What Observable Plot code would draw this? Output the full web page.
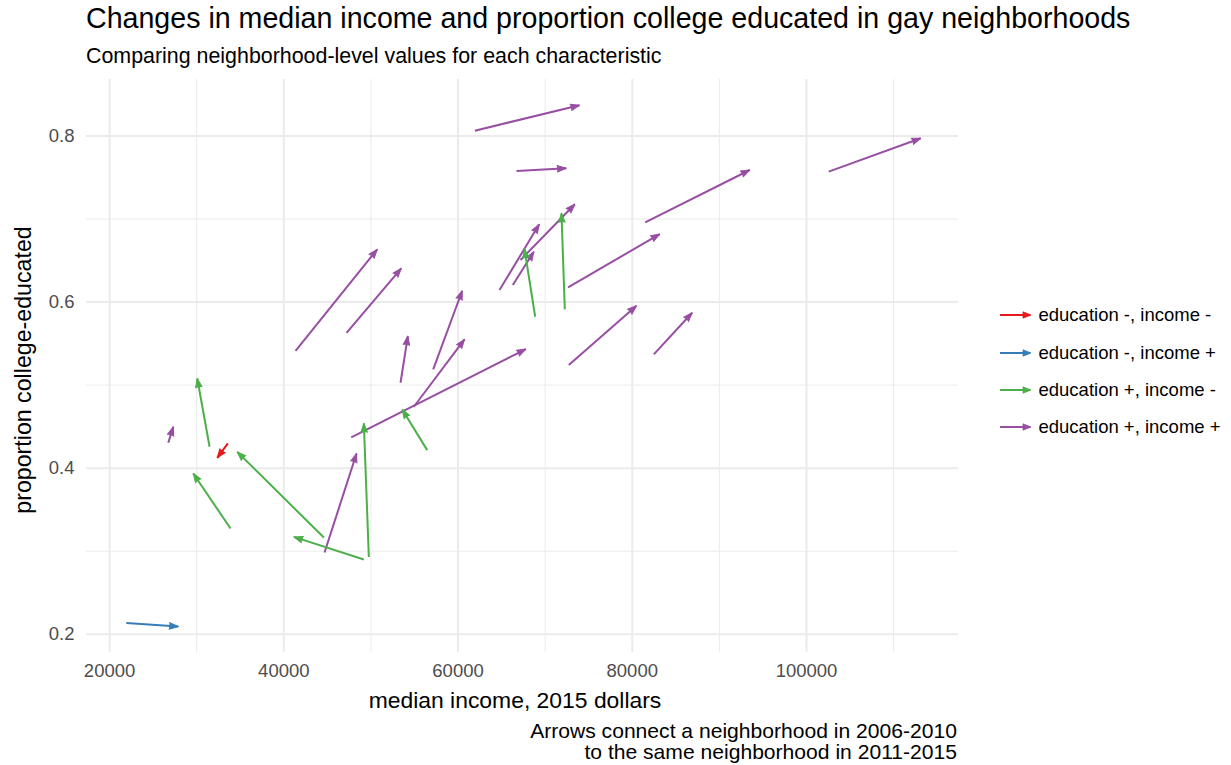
<!DOCTYPE html>
<html>
<head>
<meta charset="utf-8">
<script src="https://cdn.jsdelivr.net/npm/d3@7"></script>
<script src="https://cdn.jsdelivr.net/npm/@observablehq/plot@0.6"></script>
<style>
  body { margin: 0; background: #fff; }
  #wrap { position: relative; width: 1231px; height: 765px; font-family: "Liberation Sans", Arial, Helvetica, sans-serif; color: #000; }
  .t { position: absolute; line-height: 1; white-space: nowrap; }
</style>
</head>
<body>
<div id="wrap">
  <div id="chart" style="position:absolute;left:0;top:0"></div>
  <div class="t" style="left:86px;top:4px;font-size:28.6px;">Changes in median income and proportion college educated in gay neighborhoods</div>
  <div class="t" style="left:86px;top:45.5px;font-size:21.4px;">Comparing neighborhood-level values for each characteristic</div>
  <div class="t" style="left:79px;width:872px;text-align:center;top:689px;font-size:22.9px;">median income, 2015 dollars</div>
  <div class="t" style="left:24px;top:370px;font-size:23.2px;transform:translate(-50%,-50%) rotate(-90deg);transform-origin:center;">proportion college-educated</div>
  <div class="t" style="right:274px;top:720px;font-size:21.1px;text-align:right;">Arrows connect a neighborhood in 2006-2010</div>
  <div class="t" style="right:274px;top:741.3px;font-size:21.1px;text-align:right;">to the same neighborhood in 2011-2015</div>
  <div id="legend" style="position:absolute;left:1000px;top:0"></div>
</div>
<script>
// ---- data ----
const income2010 = [41347, 47201, 57151, 53398, 54925, 47740, 72715, 82470, 61927, 66712, 102555, 81483, 72634, 67171, 64760, 66288, 26737, 44676,
                    72255, 68858, 31477, 33887, 44596, 49187, 49760, 56463,
                    33577,
                    21917];
const income2015 = [50724, 53479, 60479, 54236, 60744, 67779, 80484, 86877, 73943, 72416, 113114, 93488, 83159, 73403, 69317, 68698, 27310, 48349,
                    71876, 67630, 30065, 29606, 34656, 41153, 49187, 53593,
                    32361,
                    27885];
const college2010 = [0.5413, 0.5630, 0.5189, 0.5028, 0.4739, 0.4370, 0.5241, 0.5370, 0.8064, 0.7578, 0.7570, 0.6960, 0.6177, 0.6506, 0.6145, 0.6205, 0.4305, 0.2984,
                     0.5912, 0.5823, 0.4257, 0.3273, 0.3165, 0.2900, 0.2931, 0.4217,
                     0.4298,
                     0.2136];
const college2015 = [0.6635, 0.6406, 0.6136, 0.5590, 0.5551, 0.5434, 0.5955, 0.5871, 0.8370, 0.7611, 0.7972, 0.7590, 0.6819, 0.7177, 0.6936, 0.6606, 0.4498, 0.4177,
                     0.7069, 0.6639, 0.5080, 0.3936, 0.4196, 0.3172, 0.4539, 0.4707,
                     0.4124,
                     0.2093];
const changeType = [
  "education +, income +", "education +, income +", "education +, income +", "education +, income +", "education +, income +", "education +, income +",
  "education +, income +", "education +, income +", "education +, income +", "education +, income +", "education +, income +", "education +, income +",
  "education +, income +", "education +, income +", "education +, income +", "education +, income +", "education +, income +", "education +, income +",
  "education +, income -", "education +, income -", "education +, income -", "education +, income -", "education +, income -", "education +, income -",
  "education +, income -", "education +, income -",
  "education -, income -",
  "education -, income +"
];
const categories = ["education -, income -", "education -, income +", "education +, income -", "education +, income +"];
const palette = ["#E41A1C", "#377EB8", "#4DAF4A", "#984EA3"];
const xMajor = [20000, 40000, 60000, 80000, 100000];
const xMinor = [30000, 50000, 70000, 90000, 110000];
const yMajor = [0.2, 0.4, 0.6, 0.8];
const yMinor = [0.3, 0.5, 0.7];

// ---- layout ----
const W = 1231, H = 765;
const mL = 86, mR = 273, mT = 79, mB = 113;
const xDomain = [17350, 117450];
const yDomain = [0.178, 0.868];
const kx = (W - mL - mR) / (xDomain[1] - xDomain[0]);
const ky = (H - mT - mB) / (yDomain[1] - yDomain[0]);

const rows = income2010.map((_, i) => {
  const dx = (income2015[i] - income2010[i]) * kx;
  const dy = (college2015[i] - college2010[i]) * ky;
  return {
    x1: income2010[i], x2: income2015[i],
    y1: college2010[i], y2: college2015[i],
    type: changeType[i],
    angle: Math.atan2(dx, dy) * 180 / Math.PI
  };
});

const plot = Plot.plot({
  width: W, height: H,
  marginLeft: mL, marginRight: mR, marginTop: mT, marginBottom: mB,
  style: { fontFamily: "'Liberation Sans', Arial, Helvetica, sans-serif", fontSize: "18.5px", color: "#4d4d4d", background: "transparent" },
  x: { domain: xDomain },
  y: { domain: yDomain },
  color: { domain: categories, range: palette },
  marks: [
    Plot.gridX(xMinor, { stroke: "#ebebeb", strokeOpacity: 1, strokeWidth: 1 }),
    Plot.gridY(yMinor, { stroke: "#ebebeb", strokeOpacity: 1, strokeWidth: 1 }),
    Plot.gridX(xMajor, { stroke: "#ebebeb", strokeOpacity: 1, strokeWidth: 2 }),
    Plot.gridY(yMajor, { stroke: "#ebebeb", strokeOpacity: 1, strokeWidth: 2 }),
    Plot.axisX({ ticks: xMajor, tickSize: 0, tickPadding: 11, label: null, tickFormat: d => String(d) }),
    Plot.axisY({ ticks: yMajor, tickSize: 0, tickPadding: 12, label: null, tickFormat: d => d.toFixed(1) }),
    Plot.link(rows, { x1: "x1", y1: "y1", x2: "x2", y2: "y2", stroke: "type", strokeWidth: 2, strokeLinecap: "butt" }),
    Plot.vector(rows, { x: "x2", y: "y2", rotate: "angle", length: 9, r: 3.3, shape: "spike", anchor: "end", fill: "type", stroke: "type", strokeWidth: 1 })
  ]
});
document.getElementById("chart").appendChild(plot);

// ---- legend ----
const leg = document.getElementById("legend");
const legY = [315, 352.5, 390, 427.3];
categories.forEach((c, i) => {
  const row = document.createElement("div");
  row.style.cssText = `position:absolute;left:0;top:${legY[i] - 12}px;height:24px;display:flex;align-items:center;white-space:nowrap;`;
  row.innerHTML = `<svg width="34" height="24" style="display:block"><line x1="0" y1="12" x2="30" y2="12" stroke="${palette[i]}" stroke-width="2"/><path d="M31,12 L23,8.8 L23,15.2 Z" fill="${palette[i]}" stroke="${palette[i]}" stroke-width="0.8"/></svg><span style="margin-left:4.5px;font-size:18.5px;line-height:24px;color:#000">${c}</span>`;
  leg.appendChild(row);
});
</script>
</body>
</html>
